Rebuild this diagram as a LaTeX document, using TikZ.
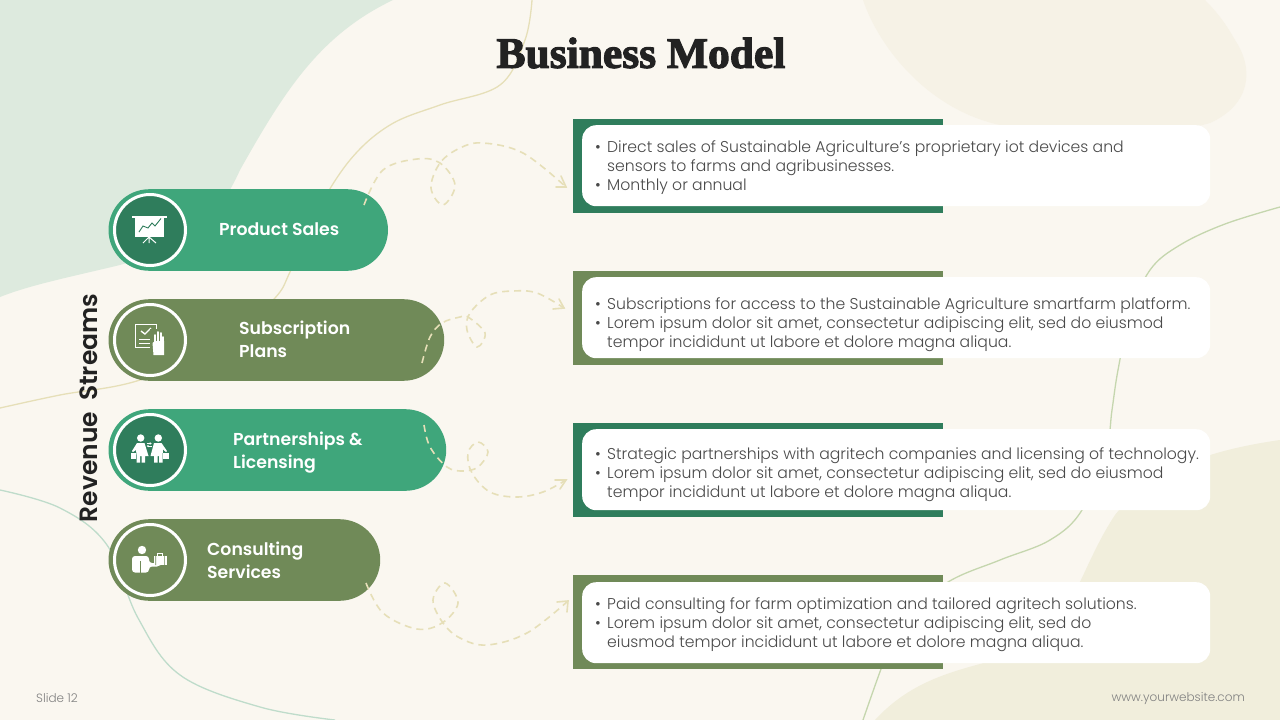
\documentclass[tikz,border=0pt]{standalone}
\usepackage{fontspec}
\usetikzlibrary{arrows.meta}
\setmainfont{Poppins}
\newfontfamily\titlefont[FakeBold=2.6]{Liberation Serif Bold}
\newfontfamily\lightfont{Poppins Light}
\newfontfamily\boldfont{Poppins SemiBold}
\definecolor{bgc}{HTML}{FAF7F0}
\definecolor{leafpale}{HTML}{DDEADE}
\definecolor{sandpale}{HTML}{F6F2E6}
\definecolor{sandmid}{HTML}{F1EEDC}
\definecolor{tanline}{HTML}{E6DFB8}
\definecolor{greenline}{HTML}{C5D6AE}
\definecolor{mintline}{HTML}{BFDCCB}
\definecolor{pillgreen}{HTML}{3FA67B}
\definecolor{deepgreen}{HTML}{2F7D5C}
\definecolor{olive}{HTML}{708A58}
\definecolor{inkc}{HTML}{222222}
\definecolor{bodyc}{HTML}{4A4A4A}
\tikzset{
  pill/.style={rounded corners=40.8pt,inner sep=0pt,minimum height=81.6pt,anchor=west},
  ring/.style={circle,draw=white,line width=3pt,minimum size=71pt,inner sep=0pt},
  pilltext/.style={anchor=west,align=left,text=white,inner sep=0pt,font=\boldfont\fontsize{17.3}{23}\selectfont},
  band/.style={inner sep=0pt,anchor=north west,minimum width=370pt},
  card/.style={fill=white,rounded corners=14pt,inner sep=0pt,anchor=north west,minimum width=628pt,minimum height=81pt},
  bodytext/.style={anchor=north west,align=left,inner sep=0pt,text=bodyc,font=\lightfont\fontsize{15.65}{19.2}\selectfont},
  dashcurve/.style={draw=tanline,line width=1.6pt,dash pattern=on 7pt off 5pt,smooth,tension=0.6},
  dashhead/.style={draw=tanline,line width=1.6pt,line cap=round},
  bg line/.style={line width=1.3pt,smooth,tension=0.6},
  smallnote/.style={inner sep=0pt,text=black!50,font=\lightfont\fontsize{12}{14}\selectfont}
}
\newcommand{\bul}{\makebox[12pt][l]{\textbullet}}
\begin{document}
\begin{tikzpicture}[x=1pt,y=-1pt]
\useasboundingbox (0,0) rectangle (1280,720);
\fill[bgc] (0,0) rectangle (1280,720);
% background blobs
\fill[leafpale] (0,0) -- (393,0) .. controls (320,35) and (285,90) .. (240,170) .. controls (220,215) and (190,245) .. (120,265) .. controls (70,277) and (30,285) .. (0,297) -- cycle;
\fill[sandpale] (863,0) .. controls (880,50) and (930,110) .. (1000,125) .. controls (1080,135) and (1170,135) .. (1210,123) .. controls (1250,105) and (1255,70) .. (1235,40) .. controls (1225,22) and (1215,10) .. (1205,0) -- cycle;
\fill[sandmid] (1280,440) .. controls (1210,450) and (1150,470) .. (1115,515) .. controls (1085,560) and (1075,610) .. (1040,640) .. controls (1000,670) and (930,660) .. (875,720) -- (1280,720) -- cycle;
% background lines
\draw[tanline,bg line] plot coordinates {(532,0) (525,40) (500,85) (440,105) (390,125) (350,160) (315,215) (290,272) (275,298) (230,340) (140,380) (60,395) (0,408)};
\draw[greenline,bg line] plot coordinates {(1280,207) (1225,224) (1180,245) (1150,270) (1130,315) (1118,370) (1112,410) (1106,450) (1082,510) (1050,540) (1000,560) (948,582) (900,620) (881,669) (863,720)};
\draw[mintline,bg line] plot coordinates {(0,490) (60,508) (107,545) (138,618) (180,675) (260,707) (335,720)};
% pills
\node[pill,fill=pillgreen,minimum width=279.5pt] (p1) at (108.3,230) {};
\node[pill,fill=olive,minimum width=335.7pt] (p2) at (108.3,340) {};
\node[pill,fill=pillgreen,minimum width=337.7pt] (p3) at (108.3,450) {};
\node[pill,fill=olive,minimum width=271.7pt] (p4) at (108.3,560) {};
\node[ring,fill=deepgreen] (r1) at (150,230) {};
\node[ring,fill=olive] (r2) at (150,340) {};
\node[ring,fill=deepgreen] (r3) at (150,450) {};
\node[ring,fill=olive] (r4) at (150,560) {};
% pill labels
\node[pilltext] (t1) at (219,229) {Product Sales};
\node[pilltext] (t2) at (239,339) {Subscription\\Plans};
\node[pilltext] (t3) at (233,453) {Partnerships \&\\Licensing};
\node[pilltext] (t4) at (207,560) {Consulting\\Services};
% icon 1
\fill[white] (132,215.5) rectangle (167,218);
\fill[white] (135,218) rectangle (164,237);
\draw[deepgreen,line width=.9pt] (139,232) -- (143,226) -- (148,228) -- (152,223) -- (155,226) -- (161,218.5);
\draw[white,line width=1pt] (149,237) -- (143,243) (149,237) -- (149,243) (149,237) -- (156,243);
% icon 2
\draw[white,line width=1pt] (135,324) rectangle (156,347);
\draw[white,line width=1.4pt] (141,331) -- (145,334) -- (151,328);
\draw[white,line width=1pt] (139,339) -- (153,339) (139,343) -- (151,343);
\fill[olive] (150,329) rectangle (165,356);
\draw[white,line width=1pt] (150,324) -- (156,324) -- (156,329);
\fill[white] (152.5,343) -- (155,341) -- (164,341) -- (164,355) -- (153.5,355) -- cycle;
\draw[white,line width=2pt,line cap=round] (155.3,342) -- (155.3,335) (158,342) -- (158,332) (160.7,342) -- (160.7,333) (163,344) -- (163,337);
% icon 3
\fill[white] (140.7,438) circle (3.7);
\fill[white] (158.3,438) circle (3.7);
\fill[white] (137,443) -- (144.5,443) -- (148.5,456) -- (145,456) -- (145,462.5) -- (141.7,462.5) -- (141.7,456) -- (140,456) -- (140,462.5) -- (136.7,462.5) -- (136.7,456) -- (136,450) -- (133,452) -- (132,451) -- cycle;
\fill[white] (154,443) -- (161.5,443) -- (167,451) -- (166,452) -- (163,449.5) -- (162.5,456) -- (162.5,462.5) -- (159.2,462.5) -- (159.2,456) -- (157.5,456) -- (157.5,462.5) -- (154.2,462.5) -- (154.2,456) -- (150.5,456) -- cycle;
\fill[white] (131,452.5) rectangle (136,458.5);
\fill[white] (163.3,452.5) rectangle (168.5,458.5);
\draw[white,line width=.6pt,-{Straight Barb[length=1.4pt,width=2pt]}] (146.7,443.5) -- (151.7,443.5);
\draw[white,line width=.6pt,-{Straight Barb[length=1.4pt,width=2pt]}] (151.7,446) -- (146.7,446);
% icon 4
\fill[white] (142,550) circle (4.2);
\fill[white,rounded corners=3pt] (132,572.5) -- (132,556) -- (149,556) -- (149,563) -- (160,563) -- (160,566.5) -- (149,566.5) -- (149,572.5) -- cycle;
\fill[olive] (139.5,561) rectangle (140.5,572.5);
\fill[white] (153.5,555.5) rectangle (166.5,565);
\fill[olive] (155.4,555.5) rectangle (156,565) (164,555.5) rectangle (164.6,565);
\draw[white,line width=.8pt] (157.5,555.5) -- (157.5,553) -- (162.5,553) -- (162.5,555.5);
% dashed arrows
\coordinate (a1s) at (364,205); \coordinate (a1e) at (566,187);
\coordinate (a2s) at (422,363); \coordinate (a2e) at (564,308);
\coordinate (a3s) at (424,425); \coordinate (a3e) at (566,480);
\coordinate (a4s) at (366,583); \coordinate (a4e) at (568,601);
\draw[dashcurve] plot coordinates {(a1s) (383,170) (417,159) (440,163) (455,185) (443,205) (431,188) (440,163) (460,148) (483,143) (523,153) (a1e)};
\draw[dashhead] (556,187) -- (a1e) -- (561,176);
\draw[dashcurve] plot coordinates {(a2s) (430,337) (442,323) (460,317) (468,317) (485,333) (477,347) (467,330) (470,313) (490,295) (513,291) (537,293) (a2e)};
\draw[dashhead] (553,309) -- (a2e) -- (559,299);
\draw[dashcurve] plot coordinates {(a3s) (430,447) (447,467) (463,471) (478,467) (488,452) (478,442) (468,453) (472,473) (490,492) (517,497) (543,492) (a3e)};
\draw[dashhead] (555,480) -- (a3e) -- (560,489);
\draw[dashcurve] plot coordinates {(a4s) (383,613) (417,629) (442,623) (458,603) (445,583) (433,600) (443,623) (460,638) (487,645) (527,633) (a4e)};
\draw[dashhead] (557,602) -- (a4e) -- (567,612);
% bands and cards
\node[band,fill=deepgreen,minimum height=94pt] (b1) at (573,119) {};
\node[band,fill=olive,minimum height=94pt] (b2) at (573,271) {};
\node[band,fill=deepgreen,minimum height=94pt] (b3) at (573,423) {};
\node[band,fill=olive,minimum height=94pt] (b4) at (573,575) {};
\node[card] (c1) at (582,125) {};
\node[card] (c2) at (582,277) {};
\node[card] (c3) at (582,429) {};
\node[card] (c4) at (582,582) {};
\node[bodytext] (d1) at (595,140) {\bul Direct sales of Sustainable Agriculture’s proprietary iot devices and\\\hspace*{12pt}sensors to farms and agribusinesses.\\\bul Monthly or annual};
\node[bodytext] (d2) at (595,297) {\bul Subscriptions for access to the Sustainable Agriculture smartfarm platform.\\\bul Lorem ipsum dolor sit amet, consectetur adipiscing elit, sed do eiusmod\\\hspace*{12pt}tempor incididunt ut labore et dolore magna aliqua.};
\node[bodytext] (d3) at (595,447) {\bul Strategic partnerships with agritech companies and licensing of technology.\\\bul Lorem ipsum dolor sit amet, consectetur adipiscing elit, sed do eiusmod\\\hspace*{12pt}tempor incididunt ut labore et dolore magna aliqua.};
\node[bodytext] (d4) at (595,597) {\bul Paid consulting for farm optimization and tailored agritech solutions.\\\bul Lorem ipsum dolor sit amet, consectetur adipiscing elit, sed do\\\hspace*{12pt}eiusmod tempor incididunt ut labore et dolore magna aliqua.};
% titles
\node[text=inkc,inner sep=0pt,font=\titlefont\fontsize{43.5}{50}\selectfont] (title) at (641,53) {Business Model};
\node[text=inkc,inner sep=0pt,rotate=90,font=\boldfont\fontsize{25}{30}\selectfont] (rev) at (89,408) {Revenue\hspace{11pt}Streams};
\node[smallnote,anchor=west] (sl) at (36,698) {Slide 12};
\node[smallnote,anchor=east] (web) at (1245,699) {www.yourwebsite.com};
\end{tikzpicture}
\end{document}
